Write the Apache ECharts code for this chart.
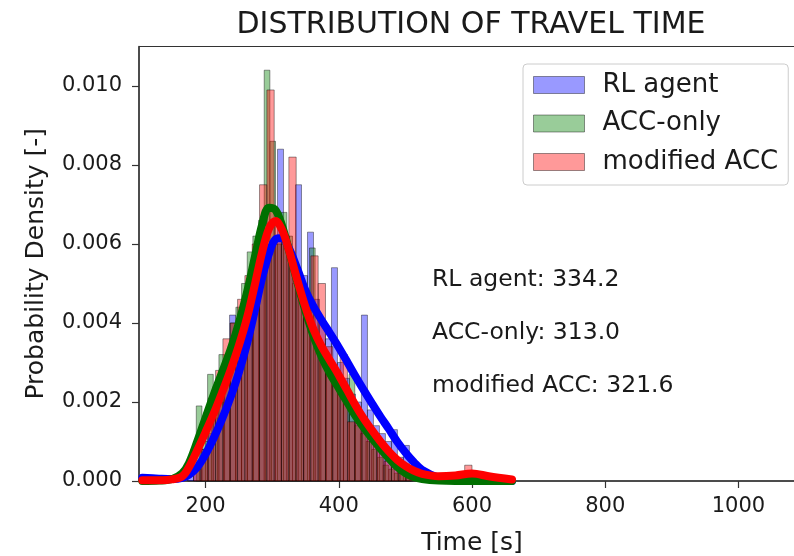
<!DOCTYPE html>
<html>
<head>
<meta charset="utf-8">
<script src="https://cdn.jsdelivr.net/npm/echarts@6/dist/echarts.min.js"></script>
<style>
  html, body { margin: 0; padding: 0; background: #fff; }
  #main { width: 794px; height: 556px; }
</style>
</head>
<body>
<div id="main"></div>
<script>
const seriesNames = ['RL agent', 'ACC-only', 'modified ACC'];
const meanTimes = [334.2, 313.0, 321.6];

// histogram bins: first edge, bin width, density per bin
const rlStart = 173, rlWidth = 9;
const rlDensity = [0.0002, 0.0004, 0.0008, 0.0012, 0.0016, 0.0020, 0.0026, 0.0042, 0.0034, 0.0039,
  0.0044, 0.0048, 0.0052, 0.0058, 0.0060, 0.0084, 0.0062, 0.0056, 0.0075, 0.0052,
  0.0063, 0.0046, 0.0040, 0.0036, 0.0054, 0.0030, 0.0026, 0.0022, 0.0020, 0.0042,
  0.0018, 0.0014, 0.0012, 0.0010, 0.0013, 0.0006, 0.0009, 0.0004, 0.0002, 0.0001];

const accStart = 186, accWidth = 8.5;
const accDensity = [0.0019, 0.0010, 0.0027, 0.0024, 0.0032, 0.0030, 0.0040, 0.0044, 0.0050, 0.0058,
  0.0062, 0.0066, 0.0104, 0.0086, 0.0060, 0.0068, 0.0062, 0.0050, 0.0046, 0.0042,
  0.0059, 0.0036, 0.0032, 0.0030, 0.0026, 0.0024, 0.0020, 0.0027, 0.0014, 0.0012,
  0.0010, 0.0008, 0.0006, 0.0004, 0.0003, 0.0002, 0.0002, 0.0001];

const modStart = 182, modWidth = 11;
const modDensity = [0.0003, 0.0008, 0.0021, 0.0028, 0.0036, 0.0040, 0.0046, 0.0052, 0.0060, 0.0075,
  0.0099, 0.0066, 0.0060, 0.0082, 0.0052, 0.0044, 0.0057, 0.0050, 0.0034, 0.0028,
  0.0032, 0.0015, 0.0018, 0.0014, 0.0010, 0.0008, 0.0005, 0.0004, 0.0002, 0.0001,
  0, 0, 0, 0, 0, 0, 0, 0.0004];

// density curves
const curveX = [105, 130, 150, 165, 175, 187.5, 200, 212.5, 225, 237.5, 250, 262.5, 275, 285, 295,
  305, 315, 325, 337.5, 350, 362.5, 375, 387.5, 400, 412.5, 425, 437.5, 450, 462.5, 475,
  487.5, 500, 512.5, 525, 550, 575, 600, 625, 660];
const rlCurve = [0.00008, 0.00006, 0.00005, 0.00008, 0.00016, 0.00035, 0.00068, 0.00110, 0.00158, 0.00212,
  0.00275, 0.00350, 0.00440, 0.00515, 0.00575, 0.00612, 0.00615, 0.00590, 0.00538, 0.00482,
  0.00440, 0.00405, 0.00372, 0.00338, 0.00302, 0.00265, 0.00230, 0.00196, 0.00163, 0.00132,
  0.00100, 0.00072, 0.00048, 0.00028, 0.00008, 0.00002, 0, 0, 0];
const accCurve = [0, 0.00001, 0.00005, 0.00020, 0.00045, 0.00100, 0.00160, 0.00220, 0.00276, 0.00333,
  0.00400, 0.00480, 0.00575, 0.00650, 0.00692, 0.00686, 0.00645, 0.00585, 0.00505, 0.00430,
  0.00365, 0.00312, 0.00270, 0.00235, 0.00200, 0.00165, 0.00135, 0.00108, 0.00082, 0.00058,
  0.00036, 0.00020, 0.00010, 0.00005, 0.00001, 0, 0, 0, 0];
const modCurve = [0.00002, 0.00002, 0.00004, 0.00012, 0.00035, 0.00078, 0.00124, 0.00172, 0.00225, 0.00281,
  0.00343, 0.00415, 0.00505, 0.00580, 0.00638, 0.00658, 0.00635, 0.00585, 0.00510, 0.00440,
  0.00382, 0.00338, 0.00303, 0.00268, 0.00230, 0.00192, 0.00158, 0.00128, 0.00100, 0.00075,
  0.00054, 0.00038, 0.00026, 0.00018, 0.00012, 0.00014, 0.00019, 0.00012, 0.00004];

const font = 'DejaVu Sans';
const fills = ['rgba(0,0,255,0.4)', 'rgba(0,128,0,0.4)', 'rgba(255,0,0,0.4)'];
const lineColors = ['#0000ff', '#007000', '#ff0000'];
const edge = 'rgba(0,0,0,0.4)';

function bins(start, width, dens) {
  const out = [];
  dens.forEach((d, i) => {
    if (d > 0) out.push([start + i * width, start + (i + 1) * width, d]);
  });
  return out;
}

function renderBar(params, api) {
  const p0 = api.coord([api.value(0), api.value(2)]);
  const p1 = api.coord([api.value(1), 0]);
  return {
    type: 'rect',
    shape: { x: p0[0], y: p0[1], width: p1[0] - p0[0], height: p1[1] - p0[1] },
    style: { fill: fills[params.seriesIndex], stroke: edge, lineWidth: 1 }
  };
}

const histData = [
  bins(rlStart, rlWidth, rlDensity),
  bins(accStart, accWidth, accDensity),
  bins(modStart, modWidth, modDensity)
];
const curves = [rlCurve, accCurve, modCurve];

const series = [];
seriesNames.forEach((name, i) => {
  series.push({
    name: name,
    type: 'custom',
    renderItem: renderBar,
    encode: { x: [0, 1], y: 2 },
    itemStyle: { color: fills[i], borderColor: edge, borderWidth: 1 },
    data: histData[i],
    z: 2
  });
});
seriesNames.forEach((name, i) => {
  series.push({
    name: name + ' kde',
    type: 'line',
    smooth: 0.35,
    showSymbol: false,
    symbol: 'none',
    lineStyle: { color: lineColors[i], width: 8, cap: 'round', join: 'round' },
    data: curveX.map((x, k) => [x, curves[i][k]]),
    z: 3
  });
});

const chart = echarts.init(document.getElementById('main'));
chart.setOption({
  animation: false,
  textStyle: { fontFamily: font, color: '#1a1a1a' },
  title: {
    text: 'DISTRIBUTION OF TRAVEL TIME',
    left: 471, top: 10, textAlign: 'center', padding: 0,
    textStyle: { fontFamily: font, fontSize: 30, fontWeight: 'normal', color: '#1a1a1a' }
  },
  grid: {
    left: 139, top: 46.5, width: 666, height: 434.5,
    containLabel: false, outerBoundsMode: 'none',
    show: true, borderColor: '#333', borderWidth: 1, backgroundColor: 'transparent'
  },
  legend: {
    orient: 'vertical',
    left: 523, top: 64,
    padding: [8, 10, 10, 10],
    itemWidth: 51, itemHeight: 17, itemGap: 12.5,
    icon: 'rect',
    backgroundColor: '#fff',
    borderColor: '#ccc', borderWidth: 1, borderRadius: 4,
    textStyle: { fontFamily: font, fontSize: 26, color: '#1a1a1a', padding: [0, 0, 0, 13] },
    data: seriesNames.map((n, i) => ({
      name: n, itemStyle: { color: fills[i], borderColor: edge, borderWidth: 1 }
    }))
  },
  xAxis: {
    type: 'value', min: 100, max: 1100, splitNumber: 5,
    name: 'Time [s]', nameLocation: 'middle', nameGap: 50,
    nameTextStyle: { fontFamily: font, fontSize: 25, color: '#1a1a1a' },
    axisLine: { lineStyle: { color: '#333', width: 1.5 } },
    axisTick: { length: 7, lineStyle: { color: '#333', width: 1.2 } },
    axisLabel: {
      fontSize: 21, color: '#1a1a1a', margin: 15, showMinLabel: false, showMaxLabel: false,
      formatter: v => String(v)
    },
    splitLine: { show: false }
  },
  yAxis: {
    type: 'value', min: 0, max: 0.011, interval: 0.002,
    name: 'Probability Density [-]', nameLocation: 'middle', nameGap: 90,
    nameTextStyle: { fontFamily: font, fontSize: 25, color: '#1a1a1a' },
    axisLine: { lineStyle: { color: '#333', width: 1.5 } },
    axisTick: { length: 7, lineStyle: { color: '#333', width: 1.2 } },
    axisLabel: {
      fontSize: 21, color: '#1a1a1a', margin: 17, showMaxLabel: false,
      formatter: v => v.toFixed(3)
    },
    splitLine: { show: false }
  },
  graphic: seriesNames.map((n, i) => ({
    type: 'text',
    x: 432, y: 280 + i * 53,
    style: {
      text: n + ': ' + meanTimes[i].toFixed(1),
      fontFamily: font, fontSize: 23.5, fill: '#1a1a1a', verticalAlign: 'middle'
    }
  })),
  series: series
});
</script>
</body>
</html>
